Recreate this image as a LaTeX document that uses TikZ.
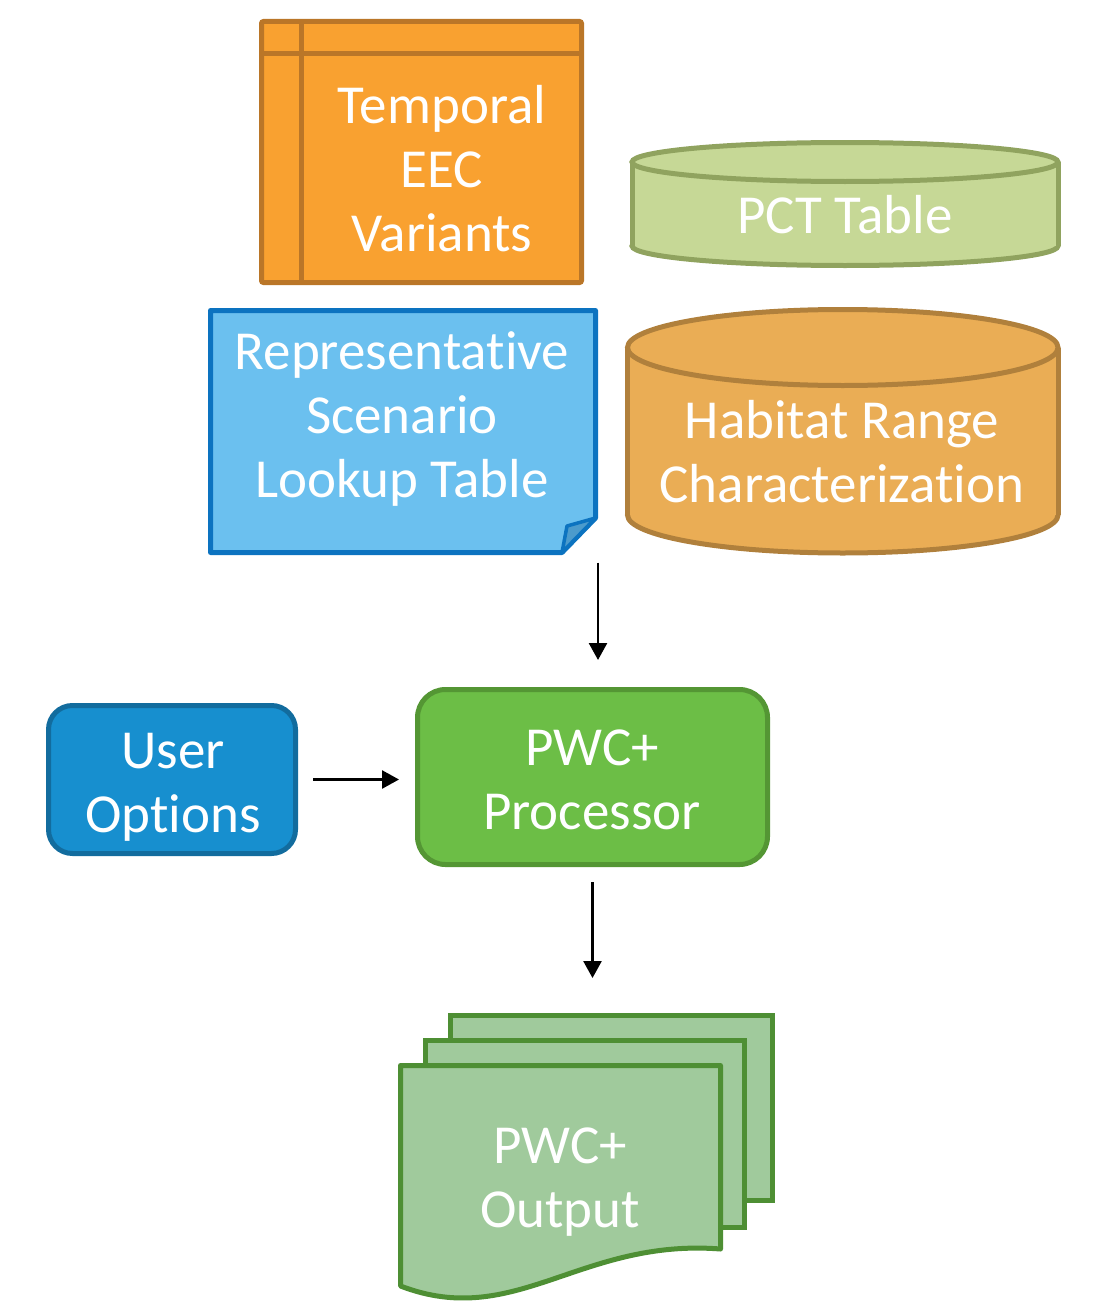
\documentclass[tikz,border=0pt]{standalone}
\usepackage{fontspec}
\setmainfont{Carlito}[Ligatures=NoCommon]
\usetikzlibrary{arrows.meta,calc}

\definecolor{tblfill}{RGB}{249,161,48}
\definecolor{tblline}{RGB}{186,118,40}
\definecolor{pctfill}{RGB}{198,216,150}
\definecolor{pctline}{RGB}{144,163,95}
\definecolor{rstfill}{RGB}{107,192,239}
\definecolor{rstline}{RGB}{12,115,192}
\definecolor{rstflap}{RGB}{76,155,204}
\definecolor{habfill}{RGB}{234,173,85}
\definecolor{habline}{RGB}{176,128,60}
\definecolor{usrfill}{RGB}{23,143,207}
\definecolor{usrline}{RGB}{18,108,158}
\definecolor{pwcfill}{RGB}{108,190,70}
\definecolor{pwcline}{RGB}{84,150,52}
\definecolor{outfill}{RGB}{160,202,156}
\definecolor{outline}{RGB}{78,143,52}

\begin{document}
\begin{tikzpicture}[x=1pt,y=-1pt,
  lbl/.style={text=white, align=center, inner sep=0pt,
    font=\fontsize{55}{64}\selectfont},
  thick5/.style={line width=5pt},
  arr/.style={line width=2.6pt, -{Triangle[length=17pt,width=18pt]}},
  frame/.style={shape=rectangle, inner sep=0pt, outer sep=0pt},
]
\useasboundingbox (0,0) rectangle (1116,1303);

% ---- Temporal EEC Variants: table symbol ----
\node[frame, draw=tblline, fill=tblfill, thick5, rounded corners=2pt,
      minimum width=320pt, minimum height=261pt, anchor=north west]
  (tbl) at (261.5,21.5) {};
\draw[tblline, thick5] ($(tbl.north west)+(0,32)$) -- ($(tbl.north east)+(0,32)$);
\draw[tblline, thick5] ($(tbl.north west)+(39.5,0)$) -- ($(tbl.south west)+(39.5,0)$);
\node[lbl] (tbl-text) at (442,169) {Temporal\\EEC\\Variants};

% ---- PCT Table: flat cylinder ----
\draw[pctline, fill=pctfill, thick5] (845,246) ellipse [x radius=213pt, y radius=19.5pt];
\fill[pctfill] (632,162) rectangle (1058,246);
\draw[pctline, thick5] (632,162) -- (632,246) (1058,162) -- (1058,246);
\draw[pctline, fill=pctfill, thick5] (845,162) ellipse [x radius=213pt, y radius=19.5pt];
\node[lbl] (pct) at (845,215) {PCT Table};

% ---- Representative Scenario Lookup Table: note with folded corner ----
\node[frame, minimum width=385pt, minimum height=242pt] (rst) at (403,431.5) {};
\draw[rstline, fill=rstfill, thick5, line join=round]
  (rst.north west) -- (rst.north east) -- ($(rst.south east)+(0,-34.5)$)
  -- ($(rst.south east)+(-33.5,0)$) -- (rst.south west) -- cycle;
\draw[rstline, fill=rstflap, line width=3.5pt, line join=round]
  ($(rst.south east)+(0,-34.5)$) -- ($(rst.south east)+(-28.5,-26.5)$)
  -- ($(rst.south east)+(-33.5,0)$) -- cycle;
\node[lbl] (rst-text) at (402,419) {Representative\\Scenario\\Lookup Table};

% ---- Habitat Range Characterization: tall cylinder ----
\draw[habline, fill=habfill, thick5] (842.75,515) ellipse [x radius=215.25pt, y radius=38pt];
\fill[habfill] (627.5,347.5) rectangle (1058,515);
\draw[habline, thick5] (627.5,347.5) -- (627.5,515) (1058,347.5) -- (1058,515);
\draw[habline, fill=habfill, thick5] (842.75,347.5) ellipse [x radius=215.25pt, y radius=38pt];
\node[lbl] (hab) at (842,452) {Habitat Range\\Characterization};

% ---- User Options ----
\node[frame, draw=usrline, fill=usrfill, thick5, rounded corners=24pt,
      minimum width=247pt, minimum height=148pt] (user) at (172,779.5) {};
\node[lbl] (user-text) at (173,787) {User\\Options};

% ---- PWC+ Processor ----
\node[frame, draw=pwcline, fill=pwcfill, thick5, rounded corners=28pt,
      minimum width=350pt, minimum height=175pt] (pwc) at (592.5,777) {};
\node[lbl] (pwc-text) at (592,780) {PWC+\\Processor};

% ---- PWC+ Output: stacked documents ----
\node[frame, draw=outline, fill=outfill, thick5, minimum width=322pt,
      minimum height=185pt, anchor=north west] (out3) at (450.5,1015.5) {};
\node[frame, draw=outline, fill=outfill, thick5, minimum width=319pt,
      minimum height=187pt, anchor=north west] (out2) at (425.5,1040.5) {};
\node[frame, minimum width=320pt, minimum height=184pt, anchor=north west]
  (out) at (400.5,1065.5) {};
\draw[outline, fill=outfill, thick5, line join=round]
  (out.south west) -- (out.north west) -- (out.north east) -- ($(out.north east)+(0,183.5)$)
  .. controls (580,1238) and (515,1330) .. ($(out.south west)+(0,36.5)$) -- cycle;
\node[lbl] (out-text) at (560,1182) {PWC+\\Output};

% ---- connectors ----
\draw[arr, shorten <=10pt, shorten >=29.5pt]
  ([xshift=2.5pt]rst.south east) -- ([xshift=2.5pt]rst.south east |- pwc.north);
\draw[arr, shorten <=17.5pt, shorten >=18.5pt]
  (user.east) -- (user.east -| pwc.west);
\draw[arr, shorten <=17.5pt, shorten >=87.5pt]
  (pwc.south) -- (pwc.south |- out.north);
\end{tikzpicture}
\end{document}
